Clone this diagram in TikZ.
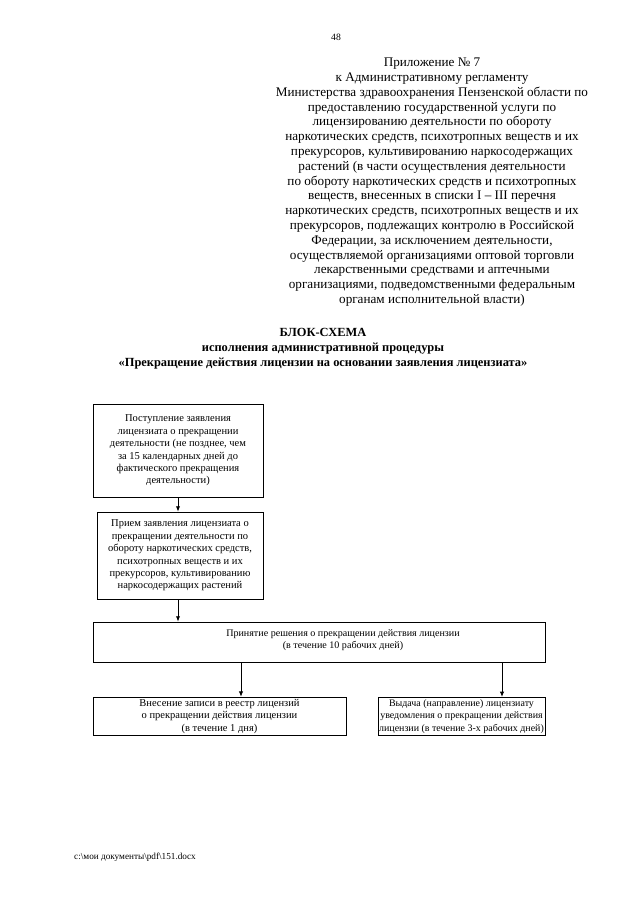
\documentclass[tikz,border=0pt]{standalone}
\usepackage{fontspec}
\setmainfont{Liberation Serif}
\usetikzlibrary{arrows.meta}

\tikzset{
  box/.style={draw, line width=0.8pt, align=center, inner sep=2pt,
    font=\fontsize{9.8}{11.6}\selectfont},
  boxtext/.style={align=center, inner sep=0pt, font=\fontsize{9.8}{11.6}\selectfont},
}

\begin{document}
\begin{tikzpicture}[x=0.328125mm, y=-0.328125mm, >={Latex[length=5pt,width=4pt]}]
  \useasboundingbox (0,0) rectangle (640,905);

  % Page number and header
  \node (page) at (336,37) {\fontsize{9}{11}\selectfont 48};
  \node[anchor=north, align=center, inner sep=0pt,
        font=\fontsize{12.3}{13.8}\selectfont] (app) at (432,58)
    {Приложение № 7\\
     к Административному регламенту\\
     Министерства здравоохранения Пензенской области по\\
     предоставлению государственной услуги по\\
     лицензированию деятельности по обороту\\
     наркотических средств, психотропных веществ и их\\
     прекурсоров, культивированию наркосодержащих\\
     растений (в части осуществления деятельности\\
     по обороту наркотических средств и психотропных\\
     веществ, внесенных в списки I – III перечня\\
     наркотических средств, психотропных веществ и их\\
     прекурсоров, подлежащих контролю в Российской\\
     Федерации, за исключением деятельности,\\
     осуществляемой организациями оптовой торговли\\
     лекарственными средствами и аптечными\\
     организациями, подведомственными федеральным\\
     органам исполнительной власти)};

  % Title
  \node[anchor=north, align=center, inner sep=0pt,
        font=\bfseries\fontsize{11.6}{14.2}\selectfont] (title) at (323,328)
    {БЛОК-СХЕМА\\
     исполнения административной процедуры\\
     «Прекращение действия лицензии на основании заявления лицензиата»};

  % Boxes
  \node[box, minimum width=55.8mm, minimum height=30.5mm] (b1) at (178,450.5)
    {Поступление заявления\\ лицензиата о прекращении\\
     деятельности (не позднее, чем\\ за 15 календарных дней до\\
     фактического прекращения\\ деятельности)};
  \node[box, minimum width=54.5mm, minimum height=28.5mm] (b2) at (180,555.5)
    {Прием заявления лицензиата о\\ прекращении деятельности по\\
     обороту наркотических средств,\\ психотропных веществ и их\\
     прекурсоров, культивированию\\ наркосодержащих растений};
  \node[box, minimum width=148.3mm, minimum height=13.1mm] (b3) at (319,642) {};
  \node[boxtext, font=\fontsize{9.4}{11.6}\selectfont] (t3) at (343,640)
    {Принятие решения о прекращении действия лицензии\\
     (в течение 10 рабочих дней)};
  \node[box, minimum width=83mm, minimum height=12.5mm] (b4) at (219.5,716.5)
    {Внесение записи в реестр лицензий\\ о прекращении действия лицензии\\
     (в течение 1 дня)};
  \node[box, minimum width=54.8mm, minimum height=12.5mm, inner sep=1pt,
        font=\fontsize{9.3}{11.6}\selectfont] (b5) at (461.5,716.5)
    {Выдача (направление) лицензиату\\ уведомления о прекращении действия\\
     лицензии (в течение 3-х рабочих дней)};

  % Arrows
  \coordinate (j4) at (241,0);
  \coordinate (j5) at (502,0);
  \draw[->, line width=0.8pt] (b1.south) -- (b1.south |- b2.north);
  \draw[->, line width=0.8pt] (b1.south |- b2.south) -- (b1.south |- b3.north);
  \draw[->, line width=0.8pt] (j4 |- b3.south) -- (j4 |- b4.north);
  \draw[->, line width=0.8pt] (j5 |- b3.south) -- (j5 |- b5.north);

  % Footer
  \node[anchor=west, inner sep=0pt, font=\fontsize{8.6}{10}\selectfont] (foot) at (74,857)
    {c:\textbackslash мои документы\textbackslash pdf\textbackslash 151.docx};
\end{tikzpicture}
\end{document}
